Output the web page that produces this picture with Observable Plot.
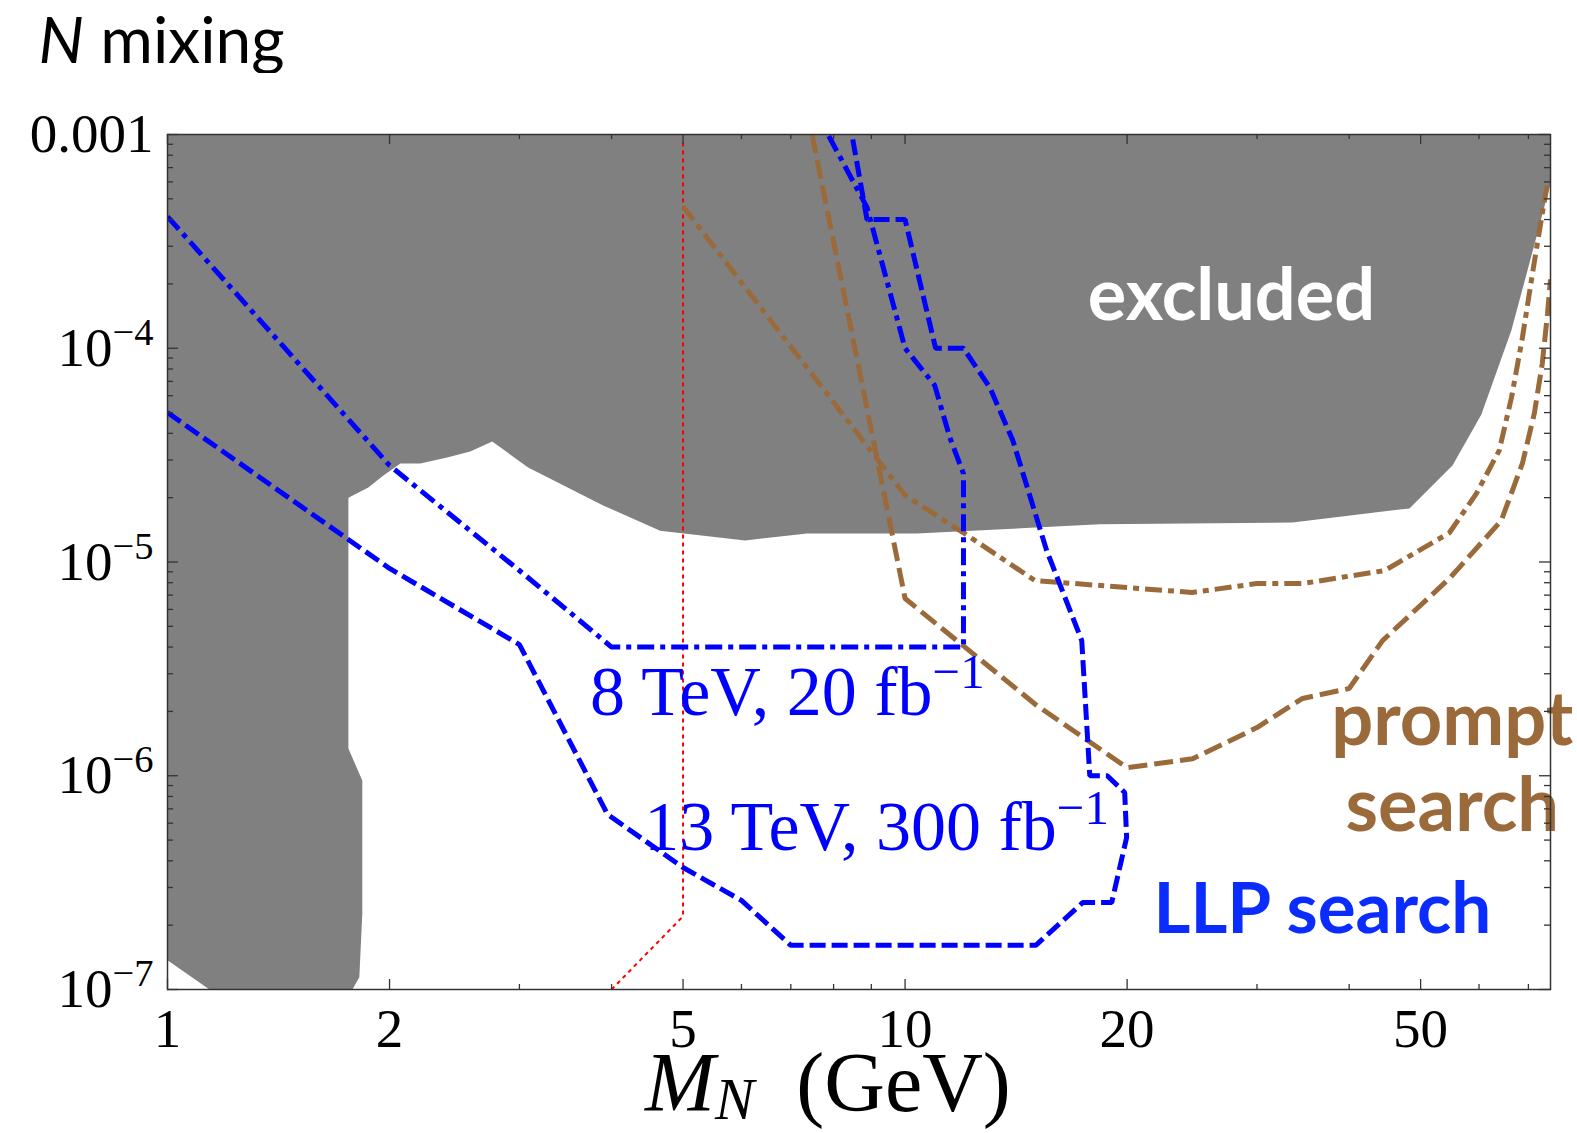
<!DOCTYPE html>
<html>
<head>
<meta charset="utf-8">
<script src="https://cdn.jsdelivr.net/npm/d3@7"></script>
<script src="https://cdn.jsdelivr.net/npm/@observablehq/plot@0.6"></script>
<style>
  html, body { margin: 0; padding: 0; background: #fff; }
  #chart { width: 1577px; height: 1133px; }
</style>
</head>
<body>
<div id="chart"></div>
<script>
// ---------- data ----------
// excluded region boundary (M_N in GeV, mixing)
const excludedMass = [1, 1.14, 1.781, 1.82, 1.837, 1.837, 1.759, 1.759, 1.872, 1.962, 2.069, 2.201, 2.394, 2.573, 2.756, 3.083, 3.896, 4.655, 6.067, 7.362, 10.37, 18.36, 33.52, 46.81, 48.29, 55.23, 60.44, 66.37, 70.21, 71.98, 75, 75, 1];
const excludedMixing = [1.37e-7, 1e-7, 1e-7, 1.14e-7, 2.27e-7, 9.5e-7, 1.34e-6, 2.0e-5, 2.23e-5, 2.54e-5, 2.89e-5, 2.89e-5, 3.08e-5, 3.29e-5, 3.66e-5, 2.77e-5, 1.84e-5, 1.40e-5, 1.26e-5, 1.36e-5, 1.36e-5, 1.50e-5, 1.53e-5, 1.76e-5, 1.78e-5, 2.83e-5, 4.90e-5, 1.21e-4, 2.49e-4, 3.44e-4, 5.9e-4, 1e-3, 1e-3];

// LLP search, 8 TeV 20 fb^-1 (dash-dot blue)
const llp8Mass = [1, 2.0, 3.035, 4.0, 12.0, 12.0, 11.5, 10.97, 10.0, 8.88, 7.86];
const llp8Mixing = [4.13e-4, 2.83e-5, 8.83e-6, 4.0e-6, 4.0e-6, 2.59e-5, 3.82e-5, 6.70e-5, 1.0e-4, 4.56e-4, 1e-3];

// LLP search, 13 TeV 300 fb^-1 (dashed blue)
const llp13Mass = [1, 2, 3, 3.95, 5, 6, 7, 15.04, 17.41, 19.06, 19.97, 19.85, 18.8, 17.8, 17.36, 15.56, 14.0, 13.03, 12, 11, 10, 8.88, 8.47];
const llp13Mixing = [5e-5, 9.33e-6, 4.11e-6, 6.6e-7, 3.72e-7, 2.61e-7, 1.61e-7, 1.61e-7, 2.55e-7, 2.55e-7, 5.14e-7, 8.35e-7, 1.0e-6, 1.0e-6, 4.29e-6, 1.13e-5, 3.70e-5, 6.55e-5, 1e-4, 1e-4, 4e-4, 4e-4, 1e-3];

// prompt search (dashed brown)
const promptDashMass = [7.48, 10, 15.04, 20, 24.54, 30, 34.58, 40, 44.4, 54.7, 64.3, 68.7, 71.3, 73.1, 74.3, 75];
const promptDashMixing = [1e-3, 6.75e-6, 2.15e-6, 1.09e-6, 1.2e-6, 1.68e-6, 2.3e-6, 2.56e-6, 4.29e-6, 8.37e-6, 1.56e-5, 2.89e-5, 4.95e-5, 8.48e-5, 1.45e-4, 2.1e-4];

// prompt search (dash-dot brown)
const promptDotMass = [5, 10, 12, 15, 24.5, 30, 34.6, 44.7, 54.7, 59.5, 63.9, 66.4, 68.7, 70.9, 73.1, 74.3];
const promptDotMixing = [4.6e-4, 2.05e-5, 1.37e-5, 8.19e-6, 7.2e-6, 7.93e-6, 7.93e-6, 9.12e-6, 1.37e-5, 2.09e-5, 3.32e-5, 5.88e-5, 1.12e-4, 2.24e-4, 4.27e-4, 5.9e-4];

// red dotted line
const redMass = [4, 5, 5];
const redMixing = [1e-7, 2.2e-7, 9.2e-4];

// ticks
const xTickValues = [1, 2, 5, 10, 20, 50];
const xMinorTicks = [3, 4, 6, 7, 8, 9, 30, 40, 60, 70];
const yTickValues = [1e-7, 1e-6, 1e-5, 1e-4, 1e-3];
const yMinorFactors = [2, 3, 4, 5, 6, 7, 8, 9];
const yMinorTicks = [1e-7, 1e-6, 1e-5, 1e-4].flatMap(d => yMinorFactors.map(k => k * d));

// labels (anchored in data units)
const regionLabelText = ["excluded"];
const regionLabelMass = [27.7];
const regionLabelMixing = [1.35e-4];

const promptLabelText = ["prompt", "search"];
const promptLabelMass = [55.2, 55.2];
const promptLabelMixing = [1.40e-6, 5.54e-7];

const llpLabelText = ["LLP search"];
const llpLabelMass = [36.8];
const llpLabelMixing = [1.83e-7];

const lumiLabelText = ["8 TeV, 20 fb^{−1}", "13 TeV, 300 fb^{−1}"];
const lumiLabelMass = [3.74, 4.43];
const lumiLabelMixing = [1.93e-6, 4.47e-7];

const xTitleText = ["*M*_{*N*}\u2002(GeV)"];
const xTitleMass = [7.86];
const yTitleText = ["*N* mixing"];

// ---------- build ----------
const pts = (m, u) => m.map((d, i) => ({mass: d, mixing: u[i]}));
const lbl = (t, m, u) => t.map((d, i) => ({text: d, mass: m[i], mixing: u[i]}));

const W = 1577, H = 1133;
const mL = 167, mR = 27, mT = 134, mB = 144;
const frameW = W - mL - mR, frameH = H - mT - mB;

const BLUE = "#0000ff";
const BROWN = "#9b6a3b";
const TEXTBLUE = "#0a2cff";
const serif = "'Liberation Serif', 'Times New Roman', serif";
const sans = "Lato, 'Noto Sans', sans-serif";

const tickStyle = {stroke: "#333", strokeWidth: 1.3};

const chart = Plot.plot({
  width: W, height: H,
  marginLeft: mL, marginRight: mR, marginTop: mT, marginBottom: mB,
  style: {fontFamily: serif, fontSize: "55px", background: "#fff", color: "#000"},
  x: {type: "log", domain: [1, 75], ticks: xTickValues, tickFormat: d => String(d), tickSize: 0, tickPadding: 18, label: null},
  y: {type: "log", domain: [1e-7, 1e-3], ticks: yTickValues,
      tickFormat: d => d === 1e-3 ? "0.001" : `10^{−${Math.round(-Math.log10(d))}}`,
      tickSize: 0, tickPadding: 14, label: null},
  marks: [
    Plot.line(pts(excludedMass, excludedMixing), {x: "mass", y: "mixing", fill: "#808080", stroke: "none", curve: "linear"}),
    Plot.line(pts(redMass, redMixing), {x: "mass", y: "mixing", stroke: "#ff0000", strokeWidth: 2, strokeDasharray: "4,4", strokeLinecap: "butt", clip: true}),
    Plot.line(pts(promptDashMass, promptDashMixing), {x: "mass", y: "mixing", stroke: BROWN, strokeWidth: 5, strokeDasharray: "19,7", strokeLinecap: "butt", strokeLinejoin: "miter", clip: true}),
    Plot.line(pts(promptDotMass, promptDotMixing), {x: "mass", y: "mixing", stroke: BROWN, strokeWidth: 5, strokeDasharray: "17,6,6,6", strokeLinecap: "butt", strokeLinejoin: "miter", clip: true}),
    Plot.line(pts(llp13Mass, llp13Mixing), {x: "mass", y: "mixing", stroke: BLUE, strokeWidth: 5, strokeDasharray: "16,6", strokeLinecap: "butt", strokeLinejoin: "miter", clip: true}),
    Plot.line(pts(llp8Mass, llp8Mixing), {x: "mass", y: "mixing", stroke: BLUE, strokeWidth: 5, strokeDasharray: "17,6,5,6", strokeLinecap: "butt", strokeLinejoin: "miter", clip: true}),

    Plot.text(lbl(regionLabelText, regionLabelMass, regionLabelMixing), {x: "mass", y: "mixing", text: "text", fill: "#fff", fontFamily: sans, fontWeight: 700, fontSize: 72, textAnchor: "middle", lineAnchor: "bottom"}),
    Plot.text(lbl(promptLabelText, promptLabelMass, promptLabelMixing), {x: "mass", y: "mixing", text: "text", fill: BROWN, fontFamily: sans, fontWeight: 700, fontSize: 74, textAnchor: "middle", lineAnchor: "bottom"}),
    Plot.text(lbl(llpLabelText, llpLabelMass, llpLabelMixing), {x: "mass", y: "mixing", text: "text", fill: TEXTBLUE, fontFamily: sans, fontWeight: 700, fontSize: 71, textAnchor: "middle", lineAnchor: "bottom"}),
    Plot.text(lbl(lumiLabelText, lumiLabelMass, lumiLabelMixing), {x: "mass", y: "mixing", text: "text", fill: BLUE, fontFamily: serif, fontSize: 70, textAnchor: "start", lineAnchor: "bottom"}),

    Plot.text(xTitleText.map((t, i) => ({text: t, mass: xTitleMass[i]})), {x: "mass", text: "text", frameAnchor: "bottom", dy: 121, fontFamily: serif, fontSize: 84, textAnchor: "middle", lineAnchor: "bottom", fill: "#000"}),
    Plot.text(yTitleText, {text: d => d, frameAnchor: "top-left", dx: 38 - mL, dy: 62 - mT, fontFamily: sans, fontSize: 64, textAnchor: "start", lineAnchor: "bottom", fill: "#000"}),

    // inward frame ticks on all four sides
    Plot.ruleX(xTickValues, {x: d => d, insetTop: frameH - 10, ...tickStyle}),
    Plot.ruleX(xTickValues, {x: d => d, insetBottom: frameH - 10, ...tickStyle}),
    Plot.ruleX(xMinorTicks, {x: d => d, insetTop: frameH - 5, ...tickStyle}),
    Plot.ruleX(xMinorTicks, {x: d => d, insetBottom: frameH - 5, ...tickStyle}),
    Plot.ruleY(yTickValues, {y: d => d, insetRight: frameW - 11, ...tickStyle}),
    Plot.ruleY(yTickValues, {y: d => d, insetLeft: frameW - 11, ...tickStyle}),
    Plot.ruleY(yMinorTicks, {y: d => d, insetRight: frameW - 6, ...tickStyle}),
    Plot.ruleY(yMinorTicks, {y: d => d, insetLeft: frameW - 6, ...tickStyle}),
    Plot.frame({stroke: "#333", strokeWidth: 1.5})
  ]
});

document.getElementById("chart").appendChild(chart);

// ---------- rich text: ^{sup}, _{sub}, *italic* ----------
const NS = "http://www.w3.org/2000/svg";
function richify(el) {
  const s = el.textContent;
  if (!/[\^_]\{|\*/.test(s)) return;
  const fs = parseFloat(getComputedStyle(el).fontSize) || 55;
  const tokens = s.split(/(\^\{[^}]*\}|_\{[^}]*\})/).filter(t => t !== "");
  while (el.firstChild) el.removeChild(el.firstChild);
  let shift = 0;
  for (const tok of tokens) {
    let kind = "n", body = tok;
    if (tok.startsWith("^{")) { kind = "sup"; body = tok.slice(2, -1); }
    else if (tok.startsWith("_{")) { kind = "sub"; body = tok.slice(2, -1); }
    const target = kind === "sup" ? -0.38 * fs : kind === "sub" ? 0.1 * fs : 0;
    const segs = body.split(/(\*[^*]+\*)/).filter(t => t !== "");
    let first = true;
    for (const seg of segs) {
      const ts = document.createElementNS(NS, "tspan");
      const italic = seg.length > 2 && seg.startsWith("*") && seg.endsWith("*");
      ts.textContent = italic ? seg.slice(1, -1) : seg;
      if (italic) ts.setAttribute("font-style", "italic");
      if (kind !== "n") ts.setAttribute("font-size", (0.7 * fs).toFixed(1));
      if (first) {
        if (target - shift !== 0) ts.setAttribute("dy", (target - shift).toFixed(1));
        shift = target; first = false;
      }
      el.appendChild(ts);
    }
  }
}

// clip the "N mixing" title like the reference (descender cut off)
const svg = chart.tagName.toLowerCase() === "svg" ? chart : chart.querySelector("svg");
const defs = document.createElementNS(NS, "defs");
const cp = document.createElementNS(NS, "clipPath");
cp.setAttribute("id", "title-clip");
const cr = document.createElementNS(NS, "rect");
cr.setAttribute("x", 0); cr.setAttribute("y", 0); cr.setAttribute("width", 700); cr.setAttribute("height", 73);
cp.appendChild(cr); defs.appendChild(cp); svg.insertBefore(defs, svg.firstChild);

svg.querySelectorAll("text").forEach(el => {
  if (el.textContent === "*N* mixing") {
    const g = el.parentNode;
    const wrap = document.createElementNS(NS, "g");
    wrap.setAttribute("clip-path", "url(#title-clip)");
    g.parentNode.insertBefore(wrap, g);
    wrap.appendChild(g);
  }
  richify(el);
});
</script>
</body>
</html>
